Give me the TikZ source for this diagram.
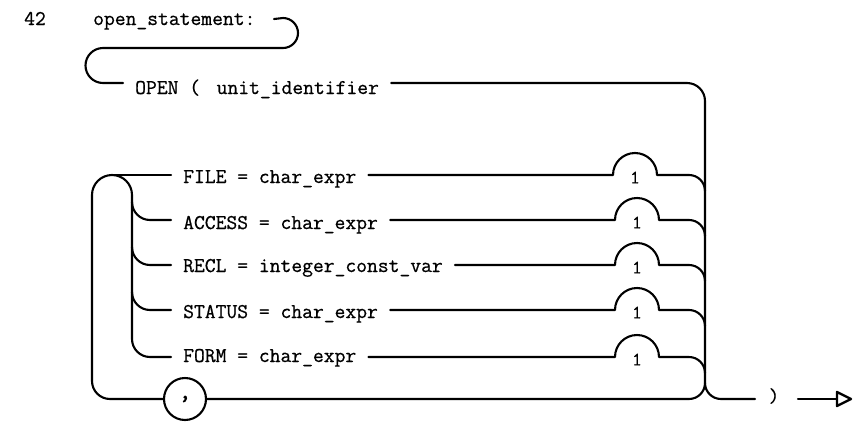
\documentclass[tikz,border=0pt]{standalone}
\usepackage{fontspec}
\newfontfamily\railfont[FakeBold=0.7]{Latin Modern Mono}
\begin{document}
\begin{tikzpicture}[x=1pt,y=1pt,
  rail/.style={line width=2.1pt, line cap=round, line join=round},
  txt/.style={font=\railfont\fontsize{21}{25}\selectfont, inner xsep=12pt, inner ysep=0pt, anchor=base west},
  plain/.style={font=\railfont\fontsize{21}{25}\selectfont, inner sep=0pt, anchor=base west},
  num/.style={font=\railfont\fontsize{19}{22}\selectfont, inner sep=0pt},
  bubble/.style={circle, draw, line width=2.1pt, minimum size=42pt, inner sep=0pt, font=\railfont\fontsize{26}{28}\selectfont}]
\useasboundingbox (0,0) rectangle (855,-421);
% header
\node[plain] (lbl) at (24,-25) {42};
\node[plain] (name) at (93,-25) {open\_statement:};
\node[txt] (openT) at (123,-94) {OPEN (\hspace{16.6pt}unit\_identifier};
% row lines
\coordinate (r0) at (0,-83);
\coordinate (r1) at (0,-175);
\coordinate (r2) at (0,-220);
\coordinate (r3) at (0,-265);
\coordinate (r4) at (0,-310);
\coordinate (r5) at (0,-357);
% options
\node[txt] (t1) at (171,-183) {FILE = char\_expr};
\node[txt] (t2) at (171,-229) {ACCESS = char\_expr};
\node[txt] (t3) at (171,-272) {RECL = integer\_const\_var};
\node[txt] (t4) at (171,-318) {STATUS = char\_expr};
\node[txt] (t5) at (171,-362) {FORM = char\_expr};
% bumps
\coordinate (b1) at (613,-175);
\coordinate (b2) at (615,-220);
\coordinate (b3) at (615,-265);
\coordinate (b4) at (615,-310);
\coordinate (b5) at (615,-357);
\node[num] (n1) at (635,-177.5) {1};
\node[num] (n2) at (637,-222.5) {1};
\node[num] (n3) at (637,-267.5) {1};
\node[num] (n4) at (637,-312.5) {1};
\node[num] (n5) at (637,-359.5) {1};
% start curve
\draw[rail] (274,-19) -- (283,-18) arc[start angle=90,end angle=-90,radius=15]
  -- (103,-48) arc[start angle=90,end angle=270,radius=17.5] -- (openT.west |- r0);
% main line and trunk
\coordinate (trunkEnd) at (705,-383);
\draw[rail] (openT.east |- r0) -- (687,-83) arc[start angle=90,end angle=0,radius=18] -- (trunkEnd);
% rows into trunk
\draw[rail] (t1.east |- r1) -- (b1) arc[start angle=180,end angle=0,radius=22] -- (689,-175) arc[start angle=90,end angle=0,radius=16];
\draw[rail] (t2.east |- r2) -- (b2) arc[start angle=180,end angle=0,radius=22] -- (689,-220) arc[start angle=90,end angle=0,radius=16];
\draw[rail] (t3.east |- r3) -- (b3) arc[start angle=180,end angle=0,radius=22] -- (689,-265) arc[start angle=90,end angle=0,radius=16];
\draw[rail] (t4.east |- r4) -- (b4) arc[start angle=180,end angle=0,radius=22] -- (689,-310) arc[start angle=90,end angle=0,radius=16];
\draw[rail] (t5.east |- r5) -- (b5) arc[start angle=180,end angle=0,radius=22] -- (689,-357) arc[start angle=90,end angle=0,radius=16];
% comma loop
\node[bubble] (comma) at (185,-399) {,};
\draw[rail] (comma.east) -- (689,-399) arc[start angle=270,end angle=360,radius=16];
\draw[rail] (comma.west) -- (110,-399) arc[start angle=270,end angle=180,radius=18]
  -- (92,-195) arc[start angle=180,end angle=0,radius=20]
  -- (132,-339) arc[start angle=180,end angle=270,radius=18] -- (t5.west |- r5);
\draw[rail] (112,-175) -- (t1.west |- r1);
\draw[rail] (132,-202) arc[start angle=180,end angle=270,radius=18] -- (t2.west |- r2);
\draw[rail] (132,-247) arc[start angle=180,end angle=270,radius=18] -- (t3.west |- r3);
\draw[rail] (132,-292) arc[start angle=180,end angle=270,radius=18] -- (t4.west |- r4);
% exit
\node[font=\railfont\fontsize{20}{22}\selectfont, inner sep=0pt] (close) at (774,-396) {)};
\coordinate (exitEnd) at (755,-399);
\draw[rail] (trunkEnd) arc[start angle=180,end angle=270,radius=16] -- (exitEnd);
\coordinate (arrS) at (798,-399);
\coordinate (arrT) at (837,-399);
\draw[rail] (arrS) -- (arrT);
\draw[rail, line width=2.4pt, fill=white] (837,-392) -- (851,-399) -- (837,-406) -- cycle;
\end{tikzpicture}
\end{document}
